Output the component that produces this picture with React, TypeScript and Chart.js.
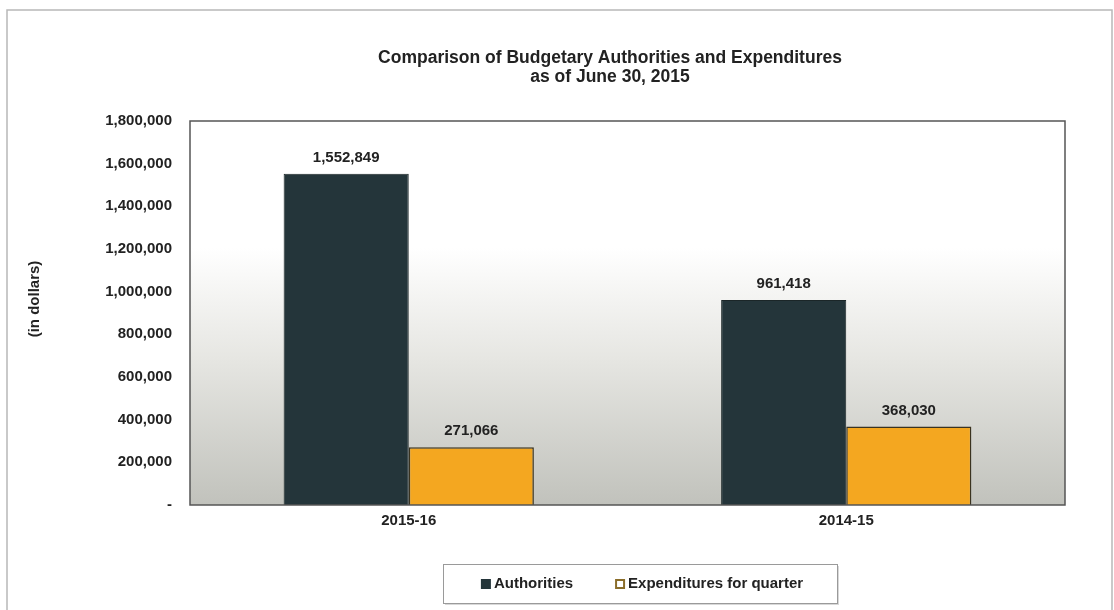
import React, { useEffect, useRef } from "react";
import { Chart, registerables } from "chart.js";

Chart.register(...registerables);

const categories = ["2015-16", "2014-15"];
const authorities = [1552849, 961418];
const expenditures = [271066, 368030];
const seriesNames = ["Authorities", "Expenditures for quarter"];
const titleLines = ["Comparison of Budgetary Authorities and Expenditures", "as of June 30, 2015"];
const yAxisTitle = "(in dollars)";
const yMax = 1800000;
const yStep = 200000;

const FONT = '"Liberation Sans", Arial, sans-serif';
const DARK = "#24353a";
const ORANGE = "#f4a720";

const fmt = (v: number) => v.toLocaleString("en-US");

export default function App() {
  const ref = useRef<HTMLCanvasElement | null>(null);

  useEffect(() => {
    const canvas = ref.current;
    if (!canvas) return;

    const decorPlugin = {
      id: "decor",
      beforeDraw(chart: any) {
        const { ctx, chartArea } = chart;
        ctx.save();
        ctx.fillStyle = "#ffffff";
        ctx.fillRect(0, 0, chart.width, chart.height);
        // outer frame
        ctx.strokeStyle = "#b8b8b8";
        ctx.lineWidth = 1.5;
        ctx.beginPath();
        ctx.moveTo(7, 610);
        ctx.lineTo(7, 10);
        ctx.lineTo(1112, 10);
        ctx.lineTo(1112, 610);
        ctx.stroke();
        // plot background gradient
        const g = ctx.createLinearGradient(0, chartArea.top, 0, chartArea.bottom);
        g.addColorStop(0, "#ffffff");
        g.addColorStop(0.33, "#ffffff");
        g.addColorStop(0.62, "#e6e6e2");
        g.addColorStop(1, "#c1c2bc");
        ctx.fillStyle = g;
        ctx.fillRect(chartArea.left, chartArea.top, chartArea.right - chartArea.left, chartArea.bottom - chartArea.top);
        ctx.restore();
      },
      afterDatasetsDraw(chart: any) {
        const { ctx, chartArea } = chart;
        ctx.save();
        // plot border
        ctx.strokeStyle = "#555555";
        ctx.lineWidth = 1.5;
        ctx.strokeRect(chartArea.left, chartArea.top, chartArea.right - chartArea.left, chartArea.bottom - chartArea.top);
        // data labels
        ctx.font = `bold 15px ${FONT}`;
        ctx.fillStyle = "#222222";
        ctx.textAlign = "center";
        ctx.textBaseline = "middle";
        chart.data.datasets.forEach((ds: any, di: number) => {
          const meta = chart.getDatasetMeta(di);
          meta.data.forEach((el: any, i: number) => {
            ctx.fillText(fmt(ds.data[i]), el.x, el.y - 16);
          });
        });
        ctx.restore();
      },
      afterDraw(chart: any) {
        const { ctx } = chart;
        ctx.save();
        // title
        ctx.fillStyle = "#222222";
        ctx.font = `bold 17.5px ${FONT}`;
        ctx.textAlign = "center";
        ctx.textBaseline = "middle";
        ctx.fillText(titleLines[0], 610, 58);
        ctx.fillText(titleLines[1], 610, 77);
        // y axis title
        ctx.font = `bold 15px ${FONT}`;
        ctx.translate(35, 299);
        ctx.rotate(-Math.PI / 2);
        ctx.fillText(yAxisTitle, 0, 0);
        ctx.restore();

        // legend
        ctx.save();
        ctx.font = `bold 15px ${FONT}`;
        ctx.textBaseline = "middle";
        const sw = 10;
        const gapSwText = 3;
        const gapItems = 42;
        const w1 = ctx.measureText(seriesNames[0]).width;
        const w2 = ctx.measureText(seriesNames[1]).width;
        const total = sw + gapSwText + w1 + gapItems + sw + gapSwText + w2;
        const cx = 642;
        const cy = 584;
        let x = cx - total / 2;
        const bx = 443, by = 564, bw = 394, bh = 39;
        ctx.fillStyle = "#d8d8d8";
        ctx.fillRect(bx + 2, by + 2, bw, bh);
        ctx.fillStyle = "#ffffff";
        ctx.fillRect(bx, by, bw, bh);
        ctx.strokeStyle = "#9a9a9a";
        ctx.lineWidth = 1;
        ctx.strokeRect(bx + 0.5, by + 0.5, bw, bh);
        // item 1
        ctx.fillStyle = DARK;
        ctx.fillRect(x, cy - sw / 2, sw, sw);
        x += sw + gapSwText;
        ctx.fillStyle = "#222222";
        ctx.textAlign = "left";
        ctx.fillText(seriesNames[0], x, cy);
        x += w1 + gapItems;
        // item 2
        ctx.fillStyle = "#ffffff";
        ctx.fillRect(x, cy - sw / 2, sw, sw);
        ctx.strokeStyle = "#8a6d2a";
        ctx.lineWidth = 2;
        ctx.strokeRect(x + 1, cy - sw / 2 + 1, sw - 2, sw - 2);
        x += sw + gapSwText;
        ctx.fillStyle = "#222222";
        ctx.fillText(seriesNames[1], x, cy);
        ctx.restore();
      },
    };

    const chart = new Chart(canvas, {
      type: "bar",
      data: {
        labels: categories,
        datasets: [
          {
            label: seriesNames[0],
            data: authorities,
            backgroundColor: DARK,
            borderColor: "#1b2628",
            borderWidth: 1,
            categoryPercentage: 0.572,
            barPercentage: 1,
          },
          {
            label: seriesNames[1],
            data: expenditures,
            backgroundColor: ORANGE,
            borderColor: "#3a3320",
            borderWidth: 1.5,
            categoryPercentage: 0.572,
            barPercentage: 1,
          },
        ],
      },
      options: {
        responsive: false,
        animation: false,
        layout: { padding: { left: 0, right: 49, top: 121, bottom: 0 } },
        plugins: {
          legend: { display: false },
          title: { display: false },
          tooltip: { enabled: false },
        },
        scales: {
          x: {
            grid: { display: false, drawTicks: false },
            border: { display: false },
            ticks: {
              padding: 7,
              color: "#222222",
              font: { family: FONT, size: 15, weight: "bold", lineHeight: 1.2 },
            },
            afterFit(scale: any) {
              scale.height = 105;
            },
          },
          y: {
            min: 0,
            max: yMax,
            grid: { display: false, drawTicks: false },
            border: { display: false },
            ticks: {
              stepSize: yStep,
              padding: 18,
              color: "#222222",
              font: { family: FONT, size: 15, weight: "bold", lineHeight: 1.2 },
              callback: (v: any) => (Number(v) === 0 ? "-" : fmt(Number(v))),
            },
            afterFit(scale: any) {
              scale.width = 190;
            },
          },
        },
      },
      plugins: [decorPlugin],
    } as any);

    return () => chart.destroy();
  }, []);

  return (
    <div style={{ position: "absolute", left: 0, top: 0, width: 1114, height: 610, background: "#fff" }}>
      <canvas ref={ref} width={1114} height={610} style={{ display: "block" }} />
    </div>
  );
}
